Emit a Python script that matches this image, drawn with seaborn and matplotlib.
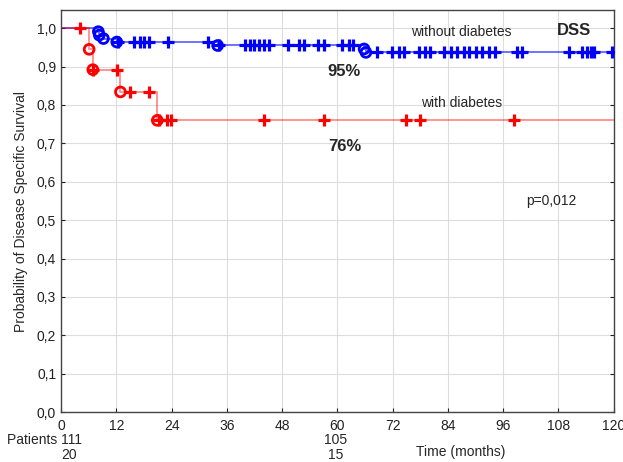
import numpy as np
import pandas as pd
import matplotlib
matplotlib.use("Agg")
import matplotlib.pyplot as plt
import matplotlib.transforms as mtransforms
import seaborn as sns

sns.set_style("whitegrid")
plt.rcParams["font.family"] = ["Liberation Sans", "DejaVu Sans"]

# ── Data ────────────────────────────────────────────────────────────────
# step curves: time of each drop and survival level after it
blue_t = [0, 8.1, 8.3, 9.2, 12.1, 34.0, 65.8, 66.2, 120]
blue_s = [1.0, 0.991, 0.982, 0.973, 0.964, 0.955, 0.946, 0.937, 0.937]
red_t = [0, 6.1, 6.9, 12.9, 20.9, 120]
red_s = [1.0, 0.945, 0.892, 0.834, 0.760, 0.760]

# censored observations (months)
blue_cens = [12.3, 15.9, 17.2, 18.1, 19.1, 23.2, 32.0, 34.2, 40.0, 41.1, 42.0,
             42.9, 44.0, 45.1, 49.3, 51.7, 52.7, 55.9, 57.0, 61.0, 62.5, 63.5,
             68.6, 71.9, 73.3, 74.4, 77.7, 79.1, 80.2, 83.1, 84.6, 86.0, 87.4,
             88.5, 90.0, 91.4, 92.9, 94.3, 99.1, 100.1, 110.3, 113.2, 114.3,
             115.0, 115.7, 119.7]
red_cens = [4.1, 7.0, 12.1, 15.0, 19.1, 21.3, 23.0, 23.8, 44.0, 57.2, 75.0,
            78.0, 98.3]

x_ticks = [0, 12, 24, 36, 48, 60, 72, 84, 96, 108, 120]
y_ticks = [0.0, 0.1, 0.2, 0.3, 0.4, 0.5, 0.6, 0.7, 0.8, 0.9, 1.0]
at_risk_without = ["111", "105"]
at_risk_with = ["20", "15"]
at_risk_times = [0, 60]

BLUE = "#0000ff"
RED = "#ff0000"


def level_at(t_steps, s_steps, times):
    idx = np.searchsorted(t_steps, times, side="right") - 1
    return np.asarray(s_steps)[idx]


fig = plt.figure(figsize=(6.23, 4.62), dpi=100)
ax = fig.add_axes([0.098, 0.108, 0.887, 0.870])

for t, s, cens, col, alpha in [(blue_t, blue_s, blue_cens, BLUE, 0.6),
                               (red_t, red_s, red_cens, RED, 0.45)]:
    curve = pd.DataFrame({"t": t, "s": s})
    sns.lineplot(data=curve, x="t", y="s", drawstyle="steps-post", color=col,
                 lw=1.3, alpha=alpha, ax=ax, zorder=2)
    ev = curve.iloc[1:-1]
    sns.scatterplot(data=ev, x="t", y="s", marker="o", s=50, facecolor="none",
                    edgecolor=col, linewidth=2.0, ax=ax, zorder=3)
    cd = pd.DataFrame({"t": cens, "s": level_at(t, s, cens)})
    sns.scatterplot(data=cd, x="t", y="s", marker="+", s=75, color=col,
                    linewidth=2.3, ax=ax, zorder=4)

ax.set_xlim(0, 120)
ax.set_ylim(0, 1.047)
ax.set_xticks(x_ticks)
ax.set_yticks(y_ticks)
ax.set_yticklabels([f"{v:.1f}".replace(".", ",") for v in y_ticks])
ax.tick_params(labelsize=10, colors="#222222", length=3, direction="in",
               right=True, left=True, bottom=True)
ax.tick_params(axis="x", pad=5)
ax.grid(color="#dddddd", lw=0.8)
for sp in ax.spines.values():
    sp.set_color("#444444")
    sp.set_linewidth(1)

ax.set_xlabel("")
ax.set_ylabel("Probability of Disease Specific Survival", fontsize=10, labelpad=6)

ax.text(76, 0.99, "without diabetes", fontsize=10, va="center")
ax.text(107.7, 0.995, "DSS", fontsize=12, fontweight="bold", va="center")
ax.text(61.4, 0.886, "95%", fontsize=12, fontweight="bold", ha="center", va="center")
ax.text(78.1, 0.805, "with diabetes", fontsize=10, va="center")
ax.text(61.7, 0.693, "76%", fontsize=12, fontweight="bold", ha="center", va="center")
ax.text(100.9, 0.55, "p=0,012", fontsize=10, va="center")

trans = mtransforms.blended_transform_factory(ax.transData, ax.transAxes)
ax.text(4.6, -0.069, "Patients " + at_risk_without[0], transform=trans,
        fontsize=10, ha="right", va="center", clip_on=False)
ax.text(1.8, -0.106, at_risk_with[0], transform=trans, fontsize=10,
        ha="center", va="center", clip_on=False)
ax.text(at_risk_times[1] - 0.4, -0.069, at_risk_without[1], transform=trans,
        fontsize=10, ha="center", va="center", clip_on=False)
ax.text(at_risk_times[1] - 0.4, -0.106, at_risk_with[1], transform=trans,
        fontsize=10, ha="center", va="center", clip_on=False)
ax.text(86.7, -0.099, "Time (months)", transform=trans, fontsize=10,
        ha="center", va="center", clip_on=False)

fig.savefig("out.png", dpi=100)
